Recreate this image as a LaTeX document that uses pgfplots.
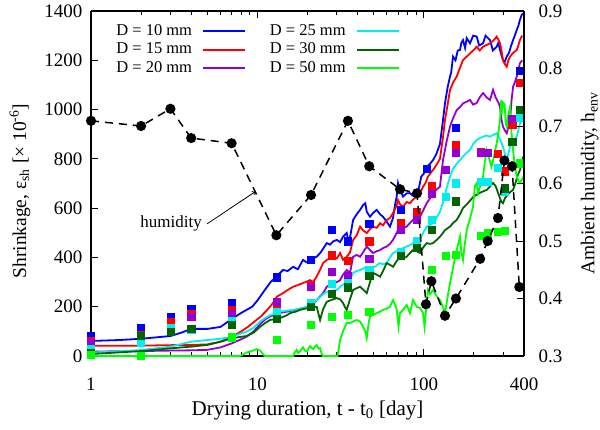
\documentclass[border=0pt]{standalone}
\usepackage{fontspec}
\setmainfont{Liberation Serif}
\usepackage{pgfplots}
\pgfplotsset{compat=1.18}
\usetikzlibrary{calc}

\definecolor{cTen}{RGB}{0,0,255}
\definecolor{cFifteen}{RGB}{255,0,0}
\definecolor{cTwenty}{RGB}{148,0,211}
\definecolor{cTwentyFive}{RGB}{0,238,238}
\definecolor{cThirty}{RGB}{0,100,0}
\definecolor{cFifty}{RGB}{0,255,0}

\pgfplotsset{
  expsq/.style={color=#1, only marks, mark=square*, mark size=3.6bp, forget plot},
}

\begin{document}
\fontsize{19bp}{22bp}\selectfont
\begin{tikzpicture}
\begin{axis}[name=main,
  scale only axis, width=433bp, height=345bp,
  xmode=log, xmin=1, xmax=400,
  tick align=inside, major tick length=7bp, minor tick length=4bp,
  tick style={black, line width=0.9bp},
  axis line style={line width=1.3bp},
  clip mode=individual,
  /pgf/number format/assume math mode=true,
  /pgf/number format/1000 sep={},
  ymin=0, ymax=1400, ytick={0,200,...,1400},
  axis y line*=left,
  xtick={1,10,100,400}, xticklabels={1,10,100,400},
  minor xtick={2,3,4,5,6,7,8,9,20,30,40,50,60,70,80,90,200,300},
  xticklabel style={yshift=-15bp},
  yticklabel style={xshift=-2bp},
  xlabel={Drying duration, t - t\textsubscript{0} [day]},
  xlabel style={at={(axis description cs:0.5,-0.157)}, anchor=center, font=\fontsize{21bp}{24bp}\selectfont},
  ylabel={Shrinkage, ε\textsubscript{sh} [× 10\textsuperscript{-6}]},
  ylabel style={at={(axis description cs:-0.164,0.478)}, anchor=center, font=\fontsize{19.5bp}{23bp}\selectfont},
  legend columns=3, transpose legend, legend plot pos=right, legend cell align=left,
  legend image code/.code={\draw[#1] (0bp,0bp) -- (42bp,0bp);},
  legend style={draw=none, fill=none, at={(0.058,0.965)}, anchor=north west,
    inner sep=0pt, row sep=2.5bp, font=\fontsize{16.5bp}{19bp}\selectfont,
    nodes={inner sep=0pt, text height=12bp, text depth=4bp},
    /tikz/every odd column/.append style={column sep=10bp},
    /tikz/every even column/.append style={column sep=24bp}},
]
\addplot[color=cTen, line width=1.8bp, no marks] coordinates {
(1,61) (1.5,65) (2,70) (3,81) (3.5,95) (4,110) (5,110) (6,118) (7,150) (8,175) (8.6,187) (9.3,200) (10,225) (11,265) (12,300) (13,322) (14.25,349) (15.2,345) (16.4,362) (17.5,352) (18.8,390) (19.8,380) (20.7,377) (21.6,395) (22.7,403) (24,420) (26.1,458) (27.3,452) (28.5,465) (30,471) (31.4,462) (32.7,484) (34.4,499) (35.2,470) (36,480) (37.6,552) (39.5,575) (41.4,593) (43.1,612) (44.5,620) (45.4,585) (47.5,565) (49.5,580) (52.1,593) (54.6,575) (56.9,565) (59.8,545) (62.6,525) (65.3,560) (67,610) (68.7,647) (70,702) (71.5,680) (75,647) (78.9,660) (82.6,661) (86.1,650) (90.6,647) (94,690) (96.5,728) (100,740) (104,768) (109,780) (113.6,795) (119,820) (125,860) (130,950) (134,1025) (139,1090) (143.7,1134) (146,1150) (149.8,1215) (155,1200) (160,1240) (165,1242) (168,1270) (172,1282) (177,1250) (181,1290) (189.5,1269) (198,1300) (208,1296) (215,1260) (227,1269) (235,1300) (250,1282) (260,1240) (274,1255) (280,1270) (287,1242) (293,1220) (299,1201) (305,1190) (315,1215) (325,1230) (335,1260) (344,1282) (352,1300) (362,1323) (370,1340) (378,1364) (388,1385) (396,1390)};
\addlegendentry{D = 10 mm}
\addplot[color=cFifteen, line width=1.8bp, no marks] coordinates {
(1,42) (2,42) (3,44) (4,45) (5,47) (6,58) (7,78) (8,100) (8.8,119) (9.6,140) (10.4,158) (11.2,180) (11.9,200) (12.4,215) (13.1,241) (14.25,255) (15.2,268) (16.4,281) (17.5,288) (18.8,296) (19.8,302) (20.7,308) (21.6,300) (22.7,322) (23.8,350) (24.8,377) (26.1,390) (27.3,395) (28.5,403) (30,396) (31.4,418) (32.7,390) (34.4,403) (36,420) (37.6,471) (39.5,490) (41.4,525) (43.1,510) (45.4,499) (47.5,515) (49.5,525) (52.1,520) (54.6,539) (56.9,530) (59.8,552) (62.6,560) (65.3,580) (68.7,610) (70,633) (72,615) (75,606) (78.9,625) (82.6,620) (86.1,635) (90.6,647) (94.9,660) (98.9,687) (102,700) (105.9,728) (109,740) (113.6,755) (119,775) (125,800) (130,880) (134,958) (139,1020) (143.7,1080) (150,1110) (157.6,1134) (165,1170) (172,1201) (181,1215) (189.5,1228) (198,1240) (208,1255) (217,1240) (227,1255) (238,1262) (250,1269) (262,1280) (274,1296) (280,1285) (287,1269) (293,1240) (299,1201) (307,1185) (315,1174) (322,1200) (330,1215) (344,1230) (362,1242) (370,1260) (378,1282) (390,1300)};
\addlegendentry{D = 15 mm}
\addplot[color=cTwenty, line width=1.8bp, no marks] coordinates {
(1,18) (2,20) (3,22) (4,23) (5,25) (6,35) (7,51) (8,68) (8.6,78) (9.5,100) (10.4,130) (11.2,150) (11.9,160) (12.8,168) (13.7,175) (15,180) (16.4,185) (17.5,190) (18.8,195) (19.8,198) (20.7,200) (21.6,212) (22.7,227) (24.8,255) (26.1,281) (28.5,296) (30,300) (31.4,308) (32.7,330) (34.4,349) (36,337) (37.6,403) (39.5,410) (41.4,403) (43.1,420) (45.4,444) (47.5,430) (49.5,418) (52.1,425) (54.6,430) (56.9,438) (59.8,444) (62.6,455) (65.3,471) (68.7,500) (71.9,525) (75,520) (78.9,525) (82.6,540) (86.1,552) (90.6,558) (94.9,565) (99,590) (104.1,620) (109,640) (113.6,661) (119,675) (125,687) (130.4,795) (137,870) (143.7,931) (150,965) (157.6,998) (165,1010) (172,1025) (181,1032) (189.5,1039) (198,1020) (208,1027) (217,1050) (227,1067) (238,1050) (250,1039) (260.6,1080) (270,1050) (280,1030) (287,1012) (293,960) (299,931) (307,915) (315,904) (322,930) (330,958) (337,1040) (344,1093) (352,1110) (362,1134) (370,1160) (378,1188) (390,1200)};
\addlegendentry{D = 20 mm}
\addplot[color=cTwentyFive, line width=1.8bp, no marks] coordinates {
(1,14) (2,24) (3,38) (4,58) (5,65) (6,70) (7,78) (8.6,99) (9.5,115) (10.4,140) (11.2,155) (11.9,165) (12.8,172) (13.7,180) (15,184) (16.4,187) (17.5,190) (18.8,195) (19.8,200) (20.7,207) (21.6,215) (22.7,227) (24.8,250) (26.1,261) (28.5,265) (30,268) (31.4,281) (32.7,290) (34.4,296) (36,310) (37.6,337) (39.5,345) (41.4,349) (43.1,355) (45.4,362) (47.5,360) (49.5,357) (52.1,368) (54.6,377) (56.9,372) (59.8,377) (62.6,400) (65.3,418) (68.7,425) (71.9,430) (75,438) (78.9,444) (82.6,450) (86.1,458) (90.6,465) (94.9,471) (99,500) (104.1,525) (109,532) (113.6,539) (119,560) (125,585) (130,620) (137,680) (143.7,728) (150,760) (157.6,780) (165,795) (172,810) (181,825) (189.5,836) (198,860) (208,877) (217,884) (227,890) (238,895) (250,890) (262,898) (274,904) (287,880) (299,850) (307,820) (315,795) (322,820) (330,850) (344,870) (362,890) (378,944) (396,958)};
\addlegendentry{D = 25 mm}
\addplot[color=cThirty, line width=1.8bp, no marks] coordinates {
(1,8) (2,20) (3,31) (4,38) (5,45) (6,58) (7,72) (8,78) (8.6,81) (9.5,95) (10.4,119) (11.2,135) (11.9,146) (12.8,150) (13.7,154) (15,165) (15.7,174) (17,180) (18,187) (19.3,192) (20.7,195) (21.6,198) (22.7,200) (23.8,146) (24.8,190) (26.1,220) (28,228) (30,235) (31.4,230) (32.7,215) (33.5,200) (34.4,187) (36,230) (37.6,268) (39.5,275) (41.4,281) (43.1,270) (45.4,255) (47.5,300) (49.5,337) (52.1,330) (54.6,322) (56.9,345) (59.8,377) (62.6,370) (65.3,362) (68.7,385) (71.9,403) (75,395) (78.9,403) (82.6,418) (86.1,430) (90.6,425) (94.9,418) (99,440) (104.1,458) (109,455) (113.6,458) (119,470) (125,484) (130,498) (134,511) (143.7,525) (150,540) (157.6,552) (165,575) (172,600) (181,615) (189.5,630) (198,645) (208,655) (217,662) (227,668) (238.8,674) (250,688) (260.6,702) (270,690) (280,660) (287.1,640) (293,625) (299.2,620) (307,640) (315,650) (330,665) (343.6,674) (355,700) (365,730) (378.5,755) (390,790) (396,809)};
\addlegendentry{D = 30 mm}
\addplot[color=cFifty, line width=1.8bp, no marks] coordinates {
(1,0) (7.85,0) (8.3,8) (8.6,14) (9.2,20) (9.9,28) (10.4,22) (10.8,8) (11.1,0) (16.4,0) (16.8,15) (17.2,25) (17.6,12) (18,18) (18.8,35) (19.3,22) (19.8,18) (20.7,40) (21.6,28) (22.2,38) (22.7,45) (23.3,30) (23.8,32) (24.3,10) (24.8,0) (30.3,0) (31.4,65) (32.7,100) (34.4,134) (36,134) (37.6,140) (39.5,146) (41.4,140) (43.1,119) (44.5,100) (45.4,73) (46.5,130) (47.5,160) (49.5,168) (52.1,174) (54.6,180) (56.9,187) (59.8,192) (62.6,200) (65.3,227) (67,210) (68.7,190) (70.5,120) (71.9,174) (75,187) (78.9,207) (82.6,174) (86.1,227) (90.6,200) (94.9,195) (98.9,174) (101,119) (104.1,215) (106,268) (109,250) (113.6,268) (119,245) (125.1,227) (130,200) (134.1,174) (139,240) (143.7,296) (150,360) (157.6,430) (165,484) (168,420) (172,390) (176,450) (181,511) (190,560) (197.6,606) (203,690) (208,702) (212,660) (217.6,687) (222,700) (227,728) (232,780) (238.8,836) (245,810) (255,768) (262,800) (274,863) (280,900) (287,958) (292,1039) (296,1000) (300,1027) (306,1020) (311,940) (315,931) (322,980) (330,1012) (337,900) (344,836) (352,770) (362,728) (370,710) (378,702) (388,715) (396,728)};
\addlegendentry{D = 50 mm}

\addplot[expsq=cTen] coordinates {(1,82) (2,115) (3,160) (4,190) (7,214) (13,320) (21,390) (28,514) (35,466) (47,536) (73,595) (104,760) (156,925) (375,1158)};
\addplot[expsq=cFifteen] coordinates {(1,60) (2,88) (3,140) (4,170) (7,188) (13,205) (21,290) (28,409) (35,386) (47,466) (73,541) (91,586) (112,690) (156,858) (220,829) (279,820) (305,750) (340,937) (375,1110)};
\addplot[expsq=cTwenty] coordinates {(1,52) (2,75) (3,112) (4,160) (7,172) (13,220) (21,281) (28,342) (35,325) (47,396) (73,514) (91,553) (112,660) (136,757) (156,824) (220,826) (243,826) (340,964)};
\addplot[expsq=cTwentyFive] coordinates {(1,31) (2,54) (3,115) (4,108) (7,143) (13,180) (21,216) (28,295) (35,296) (47,350) (73,423) (91,468) (112,552) (136,645) (156,701) (220,708) (243,708) (279,764) (305,667) (375,967)};
\addplot[expsq=cThirty] coordinates {(1,11) (2,81) (3,100) (4,110) (7,126) (13,150) (21,200) (28,252) (35,279) (47,325) (73,406) (91,439) (112,511) (156,628) (305,681) (340,870) (375,998)};
\addplot[expsq=cFifty] coordinates {(1,4) (2,0) (7,76) (13,65) (21,126) (28,160) (35,169) (47,180) (112,350) (136,406) (156,410) (220,487) (243,498) (279,505) (305,509) (375,782)};

\node[font=\fontsize{17bp}{20bp}\selectfont] at (axis cs:3.03,536) {humidity};
\draw[->, line width=0.8bp] (axis cs:4.98,536) -- (axis cs:9.67,666);
\end{axis}

\begin{axis}[
  scale only axis, width=433bp, height=345bp,
  xmode=log, xmin=1, xmax=400,
  tick align=inside, major tick length=7bp, minor tick length=4bp,
  tick style={black, line width=0.9bp},
  axis line style={line width=1.3bp},
  clip mode=individual,
  /pgf/number format/assume math mode=true,
  ymin=0.3, ymax=0.9, ytick={0.3,0.4,0.5,0.6,0.7,0.8,0.9},
  axis y line*=right, axis x line=none,
  yticklabel style={xshift=8bp, /pgf/number format/fixed, /pgf/number format/fixed zerofill, /pgf/number format/precision=1},
  ylabel={Ambient humidity, h\textsubscript{env}},
  ylabel style={at={(axis description cs:1.152,0.5)}, anchor=center, font=\fontsize{19.5bp}{23bp}\selectfont},
]
\addplot[black, line width=1.5bp, dash pattern=on 8bp off 6bp, mark=*, mark size=4.3bp, mark options={solid}] coordinates {
(1,0.709) (2,0.70) (3,0.73) (4,0.679) (7,0.670) (13,0.51) (21,0.58) (35,0.709) (47,0.63) (72,0.59) (91,0.583) (103,0.39) (111,0.43) (134,0.37) (156,0.40) (218,0.469) (242,0.50) (279,0.54) (305,0.64) (339,0.63) (375,0.42)};
\end{axis}
\pgfresetboundingbox
\path[use as bounding box] ($(main.south west)+(-91bp,-74bp)$) rectangle ($(main.north east)+(76bp,11bp)$);
\end{tikzpicture}
\end{document}
